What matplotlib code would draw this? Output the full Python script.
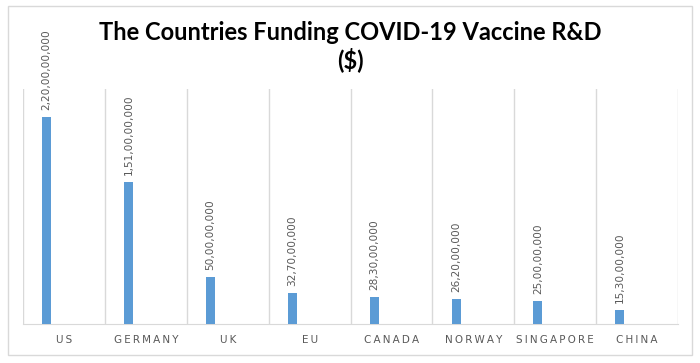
import matplotlib.pyplot as plt
from matplotlib.patches import Rectangle

countries = ["US", "GERMANY", "UK", "EU", "CANADA", "NORWAY", "SINGAPORE", "CHINA"]
funding = [2200000000, 1510000000, 500000000, 327000000,
           283000000, 262000000, 250000000, 153000000]

BLUE = "#5B9BD5"
GRID = "#D9D9D9"
TXT = "#595959"


def indian_format(n):
    s = str(int(n))
    last3, rest = s[-3:], s[:-3]
    parts = []
    while len(rest) > 2:
        parts.insert(0, rest[-2:])
        rest = rest[:-2]
    if rest:
        parts.insert(0, rest)
    return ",".join(parts + [last3])


def spaced(word):
    return "\u2009".join(word)


fig = plt.figure(figsize=(7, 3.63), dpi=100)
fig.patches.append(Rectangle((8 / 700, 1 - 355 / 363), 684 / 700, 349 / 363,
                             transform=fig.transFigure, fill=False,
                             edgecolor=GRID, linewidth=1))

ax = fig.add_axes([23 / 700, 1 - 324 / 363, 655 / 700, 235 / 363])
x = list(range(len(countries)))
bar_x = [i - 0.21 for i in x]
ax.bar(bar_x, funding, width=0.11, color=BLUE, zorder=3)

for bx, v in zip(bar_x, funding):
    ax.annotate(indian_format(v), (bx, v), xytext=(0, 5), textcoords="offset points",
                rotation=90, ha="center", va="bottom", fontsize=7.6, color=TXT,
                family="DejaVu Sans", annotation_clip=False)

ax.set_xlim(-0.5, len(countries) - 0.5)
ax.set_ylim(0, 2500000000)
ax.set_yticks([])
ax.set_xticks(x)
ax.set_xticklabels([spaced(c) for c in countries], fontsize=7.5, color=TXT,
                   family="DejaVu Sans")
ax.tick_params(axis="x", length=0, pad=8)
for b in [i + 0.5 for i in range(-1, len(countries))]:
    ax.axvline(b, color=GRID, linewidth=1, zorder=1)

for side in ["top", "left", "right"]:
    ax.spines[side].set_visible(False)
ax.spines["bottom"].set_color(GRID)

fig.text(0.5, 1 - 33 / 363, "The Countries Funding COVID-19 Vaccine R&D", ha="center",
         va="center", fontsize=17, fontweight="bold", family="Lato", color="black")
fig.text(0.5, 1 - 60 / 363, "($)", ha="center", va="center", fontsize=17,
         fontweight="bold", family="Lato", color="black")

fig.savefig("out.png", dpi=100)
